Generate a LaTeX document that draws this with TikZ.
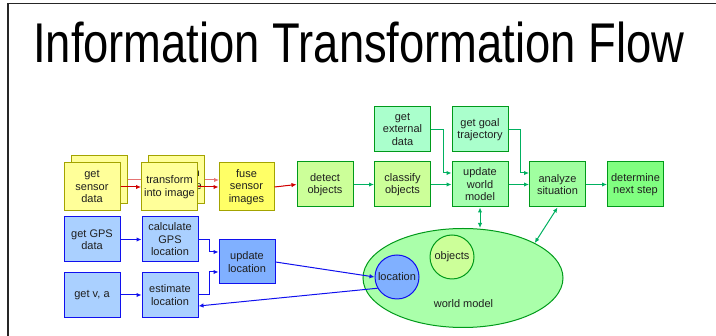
\documentclass[tikz,border=0pt]{standalone}
\usepackage{fontspec}
\setmainfont{Liberation Sans}
\newfontfamily\titlefont[FakeStretch=0.81]{Liberation Sans}
\usetikzlibrary{arrows.meta,shapes.geometric,calc}
\definecolor{ylwfill}{HTML}{FFFF99}
\definecolor{ylwfuse}{HTML}{FFFF66}
\definecolor{ylwline}{HTML}{A3A300}
\definecolor{lgfill}{HTML}{CCFF99}
\definecolor{mintfill}{HTML}{AAFFCC}
\definecolor{gfill}{HTML}{A6FFB0}
\definecolor{afill}{HTML}{A0FFA0}
\definecolor{dfill}{HTML}{80FF80}
\definecolor{wmfill}{HTML}{AAFFAA}
\definecolor{gline}{HTML}{009A1A}
\definecolor{garrow}{HTML}{00B060}
\definecolor{bfill}{HTML}{AAD0FF}
\definecolor{bdark}{HTML}{80B0FF}
\definecolor{bline}{HTML}{1010EE}
\definecolor{rarrow}{HTML}{D00000}
\begin{document}
\begin{tikzpicture}[x=1pt,y=-1pt,
  box/.style={draw, line width=1pt, inner sep=0pt, align=center,
    font=\fontsize{11}{12.5}\selectfont, text=black!88},
  ybox/.style={box, draw=ylwline, fill=ylwfill, minimum width=56pt, minimum height=48pt},
  gbox/.style={box, draw=gline, minimum width=56pt, minimum height=45pt},
  bbox/.style={box, draw=bline, fill=bfill, minimum width=56pt, minimum height=45pt},
  tip/.style={-{Latex[length=5pt,width=4.5pt]}},
  redarr/.style={tip, draw=rarrow, fill=rarrow, line width=1pt},
  pinkarr/.style={tip, draw=rarrow!55, line width=1pt},
  greenarr/.style={tip, draw=garrow, line width=1pt},
  dgreenarr/.style={{Latex[length=5pt,width=4.5pt]}-{Latex[length=5pt,width=4.5pt]}, draw=garrow, line width=1pt},
  bluearr/.style={tip, draw=bline, line width=1pt}]
\useasboundingbox (0,0) rectangle (716,336);
\draw[line width=1.5pt, black!85] (8,336) -- (8,3.5) -- (716,3.5);
\node[font=\titlefont\fontsize{56}{60}\selectfont, anchor=base west, inner sep=0pt, text=black] (title) at (33,62.5) {Information Transformation Flow};

% back (stacked) boxes
\node[ybox] (sensorB) at (99,180) {get\\sensor\\data};
\node[ybox] (transB) at (176.5,180) {transform\\into image};
\draw[pinkarr] (sensorB.east) -- (transB.west);
\draw[pinkarr] (transB.east) -- (transB.east -| 219,0);

% front yellow boxes
\node[ybox] (sensorF) at (92,187) {get\\sensor\\data};
\node[ybox] (transF) at (169.5,187) {transform\\into image};
\node[ybox, fill=ylwfuse, minimum width=55pt] (fuse) at (246.5,187) {fuse\\sensor\\images};

% green boxes
\node[gbox, fill=lgfill] (detect) at (325,184.5) {detect\\objects};
\node[gbox, fill=lgfill] (classify) at (402.5,184.5) {classify\\objects};
\node[gbox, fill=mintfill] (external) at (402.5,129.5) {get\\external\\data};
\node[gbox, fill=gfill] (update) at (480,184.5) {update\\world\\model};
\node[gbox, fill=mintfill] (goal) at (480,129.5) {get goal\\trajectory};
\node[gbox, fill=afill] (analyze) at (557.5,184.5) {analyze\\situation};
\node[gbox, fill=dfill] (determine) at (635.5,184.5) {determine\\next step};

% blue boxes
\node[bbox] (gps) at (92,239.5) {get GPS\\data};
\node[bbox] (calc) at (170,239.5) {calculate\\GPS\\location};
\node[bbox, fill=bdark, minimum height=44pt] (updloc) at (247,262) {update\\location};
\node[bbox] (getva) at (92,295) {get v, a};
\node[bbox] (estimate) at (170,295) {estimate\\location};

% world model
\node[ellipse, draw=gline, fill=wmfill, line width=1pt, minimum width=200pt, minimum height=99pt, inner sep=0pt] (wm) at (463,278) {};
\node[font=\fontsize{11}{12.5}\selectfont, text=black!88] (wmlabel) at (463.5,304) {world model};
\node[circle, draw=bline, fill=bdark, line width=1pt, minimum size=44pt, inner sep=0pt, font=\fontsize{11}{12.5}\selectfont, text=black!88] (loc) at (397,277) {location};
\node[circle, draw=gline, fill=lgfill, line width=1pt, minimum size=44pt, inner sep=0pt, font=\fontsize{11}{12.5}\selectfont, text=black!88] (objects) at (452,257) {objects};

% red arrows
\draw[redarr] (sensorF.east) -- (transF.west);
\draw[redarr] (transF.east) -- (fuse.west);
\draw[redarr] (fuse.east) -- (detect.west);

% green arrows
\draw[greenarr] (detect.east) -- (classify.west);
\draw[greenarr] (classify.east) -- (update.west);
\draw[greenarr] (update.east) -- (analyze.west);
\draw[greenarr] (analyze.east) -- (determine.west);
\draw[greenarr] (external.east) -- ++(12,0) |- ([yshift=11.5pt]update.west);
\draw[greenarr] (goal.east) -- ++(12,0) |- ([yshift=11.5pt]analyze.west);
\draw[dgreenarr] (update.south) -- (update.south |- 0,228);
\draw[dgreenarr] (analyze.south) -- (wm.26);

% blue arrows
\draw[bluearr] (gps.east) -- (calc.west);
\draw[bluearr] (calc.east) -- ++(11,0) |- ([yshift=10pt]updloc.west);
\draw[bluearr] (estimate.east) -- ++(11,0) |- ([yshift=-10pt]updloc.west);
\draw[bluearr] (getva.east) -- (estimate.west);
\draw[bluearr] (updloc.east) -- (loc.west);
\draw[bluearr] (loc.210) -- ([yshift=-11pt]estimate.east);
\end{tikzpicture}
\end{document}
